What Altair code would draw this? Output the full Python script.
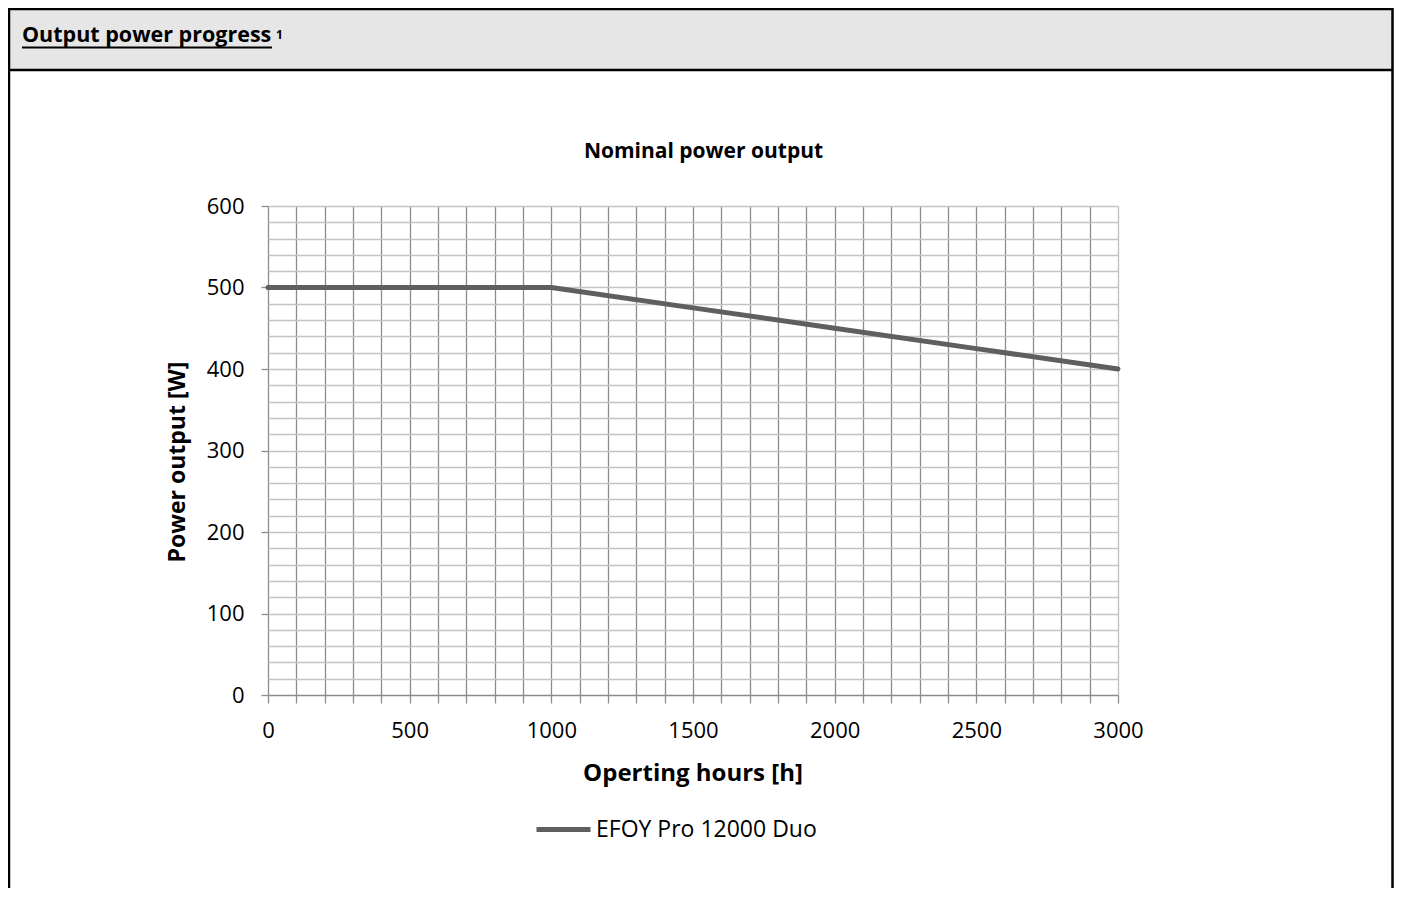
import altair as alt
import pandas as pd

# ---- data ----
hours = [0, 500, 1000, 1500, 2000, 2500, 3000]
power = [500, 500, 500, 475, 450, 425, 400]
series_name = "EFOY Pro 12000 Duo"

x_grid_values = list(range(0, 3001, 100))
y_grid_values = list(range(0, 601, 20))

header_text = "Output power progress"
footnote_mark = "1"
chart_title = "Nominal power output"
x_title = "Operting hours [h]"
y_title = "Power output [W]"

FONT = "Open Sans"
W, H = 850, 489
PAD = {"left": 260, "top": 198, "right": 276, "bottom": 193}

df = pd.DataFrame({"hours": hours, "power": power, "series": [series_name] * len(hours)})
one = pd.DataFrame({"k": [0]})

x_axis = alt.Axis(
    values=x_grid_values,
    format="d",
    labelExpr="datum.value % 500 === 0 ? datum.label : ''",
    title=None,
    grid=True,
    gridColor={"condition": {"test": "datum.value === 3000", "value": "#bdbdbd"}, "value": "#8c8c8c"},
    gridWidth=1.3,
    ticks=True,
    tickColor="#8c8c8c",
    tickSize=8,
    tickWidth=1.3,
    domain=True,
    domainColor="#8c8c8c",
    domainWidth=1.3,
    labelFont=FONT,
    labelFontSize=22,
    labelColor="#000000",
    labelPadding=17,
    labelFlush=False,
    labelOverlap=False,
)

y_axis = alt.Axis(
    values=y_grid_values,
    format="d",
    labelExpr="datum.value % 100 === 0 ? datum.label : ''",
    title=None,
    grid=True,
    gridColor="#c4c4c4",
    gridWidth=1.3,
    gridOpacity={"condition": {"test": "datum.value === 0", "value": 0}, "value": 1},
    ticks=True,
    tickColor="#8c8c8c",
    tickSize=7,
    tickWidth=1.3,
    tickOpacity={"condition": {"test": "datum.value % 100 === 0", "value": 1}, "value": 0},
    domain=False,
    labelFont=FONT,
    labelFontSize=22,
    labelColor="#000000",
    labelPadding=17,
    labelFlush=False,
    labelOverlap=False,
)

line = alt.Chart(df).mark_line(strokeWidth=5, strokeCap="round", strokeJoin="round").encode(
    x=alt.X("hours:Q", scale=alt.Scale(domain=[0, 3000], nice=False), axis=x_axis),
    y=alt.Y("power:Q", scale=alt.Scale(domain=[0, 600], nice=False), axis=y_axis),
    color=alt.Color(
        "series:N",
        scale=alt.Scale(domain=[series_name], range=["#5f5f5f"]),
        legend=alt.Legend(
            title=None,
            orient="none",
            legendX=266,
            legendY=594,
            padding=0,
            symbolType="stroke",
            symbolSize=2916,
            symbolStrokeWidth=5,
            labelOffset=3,
            labelLimit=600,
            labelFont=FONT,
            labelFontSize=23,
            labelColor="#000000",
        ),
    ),
)

# ---- page decoration: header band and frame ----
RIGHT = 1124.5
header_bg = alt.Chart(one).mark_rect(fill="#e6e6e6").encode(
    x=alt.value(-259), x2=alt.value(RIGHT), y=alt.value(-197), y2=alt.value(-136)
)
frame = alt.Chart(one).mark_rect(fillOpacity=0, stroke="#000000", strokeWidth=2.5).encode(
    x=alt.value(-259), x2=alt.value(RIGHT), y=alt.value(-197), y2=alt.value(720)
)
header_rule = alt.Chart(one).mark_rule(stroke="#000000", strokeWidth=2.5).encode(
    x=alt.value(-259), x2=alt.value(RIGHT), y=alt.value(-136)
)
header = alt.Chart(one).mark_text(
    text=header_text, font=FONT, fontSize=21.5, fontWeight="bold", align="left", baseline="alphabetic", color="#000000"
).encode(x=alt.value(-246), y=alt.value(-164))
underline = alt.Chart(one).mark_rule(stroke="#000000", strokeWidth=2).encode(
    x=alt.value(-246), x2=alt.value(4), y=alt.value(-158.5)
)
footnote = alt.Chart(one).mark_text(
    text=footnote_mark, font=FONT, fontSize=12, fontWeight="bold", align="left", baseline="alphabetic", color="#000000"
).encode(x=alt.value(8), y=alt.value(-167))

title = alt.Chart(one).mark_text(
    text=chart_title, font=FONT, fontSize=21, fontWeight="bold", align="center", baseline="alphabetic", color="#000000"
).encode(x=alt.value(435.5), y=alt.value(-48))
xt = alt.Chart(one).mark_text(
    text=x_title, font=FONT, fontSize=24, fontWeight="bold", align="center", baseline="alphabetic", color="#000000"
).encode(x=alt.value(425), y=alt.value(575))
yt = alt.Chart(one).mark_text(
    text=y_title, font=FONT, fontSize=23, fontWeight="bold", align="center", baseline="middle", angle=270, color="#000000"
).encode(x=alt.value(-90), y=alt.value(256))

chart = alt.layer(header_bg, frame, header_rule, header, underline, footnote, title, xt, yt, line).properties(
    width=W, height=H, padding=PAD, autosize=alt.AutoSizeParams(type="none"), background="#ffffff"
).configure_view(stroke=None)

chart.save("out.html", embed_options={"renderer": "svg", "actions": False})
